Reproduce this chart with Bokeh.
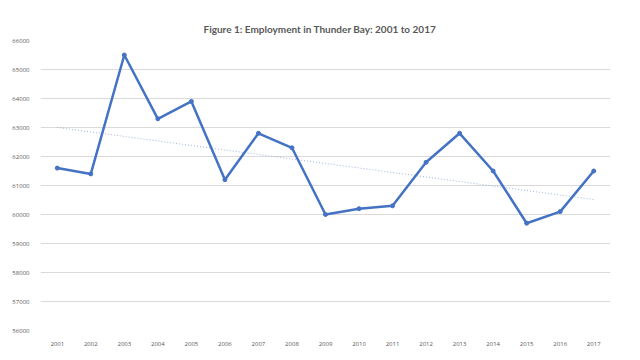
import numpy as np
from bokeh.plotting import figure
from bokeh.models import FixedTicker, Range1d, Title
from bokeh.embed import file_html
from bokeh.resources import INLINE

years = [2001, 2002, 2003, 2004, 2005, 2006, 2007, 2008, 2009,
         2010, 2011, 2012, 2013, 2014, 2015, 2016, 2017]
employment = [61600, 61400, 65500, 63300, 63900, 61200, 62800, 62300, 60000,
              60200, 60300, 61800, 62800, 61500, 59700, 60100, 61500]
y_ticks = [56000, 57000, 58000, 59000, 60000, 61000, 62000, 63000, 64000, 65000, 66000]

# linear trendline computed from the data (as the spreadsheet does)
coef = np.polyfit(years, employment, 1)
trend = [coef[0] * yr + coef[1] for yr in years]

p = figure(width=640, height=360, output_backend="svg", toolbar_location=None,
           x_range=Range1d(2000.5, 2017.5), y_range=Range1d(56000, 66000),
           min_border_left=40, min_border_right=30, min_border_top=40, min_border_bottom=30)
p.title = None
t = Title(text="Figure 1: Employment in Thunder Bay: 2001 to 2017", align="left",
          text_font="Lato", text_font_size="10px", text_font_style="bold",
          text_color="#595959", offset=163, standoff=11)
p.add_layout(t, "above")

p.outline_line_color = None
p.background_fill_color = "white"
p.border_fill_color = "white"

p.xgrid.grid_line_color = None
p.ygrid.grid_line_color = "#d9d9d9"
p.ygrid.grid_line_width = 1

p.xaxis.ticker = FixedTicker(ticks=years)
p.yaxis.ticker = FixedTicker(ticks=y_ticks)
for ax in (p.xaxis, p.yaxis):
    ax.axis_line_color = None
    ax.major_tick_line_color = None
    ax.minor_tick_line_color = None
    ax.major_label_text_font = "Open Sans"
    ax.major_label_text_font_size = "6px"
    ax.major_label_text_color = "#595959"
p.xaxis.major_label_standoff = 5
p.yaxis.major_label_standoff = 5

p.line(years, trend, line_color="#9db4dc", line_width=1, line_dash="1 2")
p.line(years, employment, line_color="#4472c4", line_width=2.5)
p.scatter(years, employment, size=4, fill_color="#4472c4", line_color="#4472c4")

open("out.html", "w").write(file_html(p, INLINE))
